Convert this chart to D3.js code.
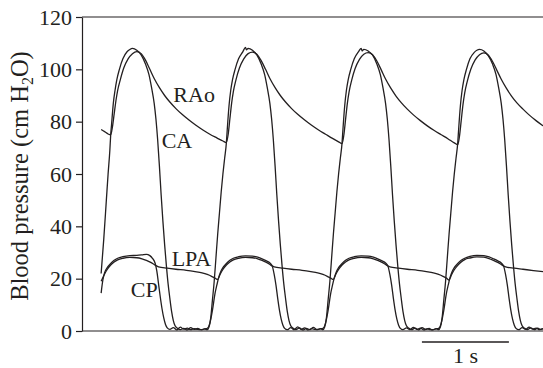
<html>
<head>
<style>
  body { margin: 0; background: #fff; }
  svg { display: block; }
  .trace { fill: none; stroke: #231f20; stroke-width: 1.3; stroke-linejoin: round; }
  .lbl { font-family: "Liberation Serif", "Times New Roman", serif; font-size: 22px; fill: #231f20; }
</style>
<script src="https://d3js.org/d3.v7.min.js"></script>
</head>
<body>
<svg width="543" height="368"></svg>
<script>
// time in s, pressure in cm H2O
const RAo = [[0.22,77],[0.26,76.2],[0.30,75.3],[0.33,75],[0.35,78],[0.37,83],[0.39,88],[0.41,92],[0.44,96],[0.48,100.5],[0.53,104],[0.58,106],[0.63,106.8],[0.68,106],[0.73,103.5],[0.78,100],[0.83,96.5],[0.89,93],[0.95,90],[1.01,87.5],[1.08,85],[1.15,82.8],[1.23,80.6],[1.31,78.6],[1.39,76.8],[1.47,75.2],[1.55,73.8],[1.62,72.6],[1.66,72],
  [1.68,75],[1.70,81],[1.72,87],[1.74,91.5],[1.77,96],[1.81,100.5],[1.86,104],[1.91,106],[1.96,106.6],[2.01,105.8],[2.06,103.3],[2.11,100],[2.16,96.5],[2.22,93],[2.28,90],[2.34,87.5],[2.41,85],[2.48,82.8],[2.56,80.6],[2.64,78.6],[2.72,76.8],[2.80,75.2],[2.88,73.6],[2.95,72.3],[2.99,71.6],
  [3.01,74.8],[3.03,80.8],[3.05,86.8],[3.07,91.3],[3.10,95.8],[3.14,100.3],[3.19,103.8],[3.24,105.8],[3.29,106.4],[3.34,105.6],[3.39,103.2],[3.44,99.8],[3.49,96.3],[3.55,92.8],[3.61,89.8],[3.67,87.3],[3.74,84.8],[3.81,82.6],[3.89,80.4],[3.97,78.4],[4.05,76.6],[4.13,75],[4.21,73.4],[4.28,71.9],[4.32,71.2],
  [4.34,74.5],[4.36,80.5],[4.38,86.5],[4.40,91],[4.43,95.5],[4.47,100],[4.52,103.6],[4.57,105.6],[4.62,106.3],[4.67,105.5],[4.72,103],[4.77,99.6],[4.82,96.2],[4.88,92.7],[4.94,89.7],[5.00,87.2],[5.07,84.8],[5.14,82.6],[5.22,80.4],[5.30,78.4]];

const CA = [[0.22,22],[0.25,35],[0.28,50],[0.30,60],[0.32,69],[0.33,75],[0.34,79],[0.36,87],[0.38,92],[0.40,96],[0.43,100],[0.47,104],[0.52,106.8],[0.55,107.6],[0.58,108],[0.63,107.3],[0.68,105.5],[0.73,102],[0.77,98],[0.80,93],[0.83,87],[0.85,81],[0.87,73],[0.89,63],[0.91,52],[0.93,42],[0.95,33],[0.97,25],[0.99,18],[1.01,12.5],[1.03,7.5],[1.05,4],[1.07,2],[1.10,1],[1.13,0.5],[1.17,1.0],[1.21,0.4],[1.25,1.3],[1.29,0.6],[1.33,1.0],[1.37,0.5],[1.41,0.8],
  [1.44,0.5],[1.46,1.5],[1.48,5],[1.50,12],[1.52,19],[1.54,28],[1.56,37],[1.58,45],[1.60,53],[1.62,60],[1.64,66],[1.66,72],[1.67,77],[1.69,86],[1.71,92],[1.73,96],[1.76,100],[1.80,104],[1.85,106.8],[1.88,108.4],[1.89,107.4],[1.91,108],[1.96,107.3],[2.01,105.5],[2.06,102],[2.10,98],[2.13,93],[2.16,87],[2.18,81],[2.20,73],[2.22,63],[2.24,52],[2.26,42],[2.28,33],[2.30,25],[2.32,18],[2.34,12.5],[2.36,7.5],[2.38,4],[2.40,2],[2.43,1],[2.46,0.5],[2.50,1.2],[2.54,0.4],[2.58,1.0],[2.62,0.5],[2.66,1.4],[2.70,0.6],[2.74,0.9],
  [2.77,0.5],[2.79,1.5],[2.81,5],[2.83,12],[2.85,19],[2.87,28],[2.89,37],[2.91,45],[2.93,53],[2.95,60],[2.97,66],[2.99,72],[3.00,77],[3.02,86],[3.04,92],[3.06,96],[3.09,100],[3.13,104],[3.18,106.8],[3.21,108],[3.22,107],[3.24,107.6],[3.29,107],[3.34,105.5],[3.39,102],[3.43,98],[3.46,93],[3.49,87],[3.51,81],[3.53,73],[3.55,63],[3.57,52],[3.59,42],[3.61,33],[3.63,25],[3.65,18],[3.67,12.5],[3.69,7.5],[3.71,4],[3.73,2],[3.76,1],[3.79,0.5],[3.83,1.1],[3.87,0.4],[3.91,1.3],[3.95,0.6],[3.99,1.0],[4.03,0.4],[4.07,0.9],
  [4.10,0.5],[4.12,1.5],[4.14,5],[4.16,12],[4.18,19],[4.20,28],[4.22,37],[4.24,45],[4.26,53],[4.28,60],[4.30,66],[4.32,72],[4.33,77],[4.35,86],[4.37,92],[4.39,96],[4.42,100],[4.46,104],[4.51,106.5],[4.54,107.3],[4.57,107.6],[4.62,107],[4.67,105.2],[4.72,102],[4.76,98],[4.79,93],[4.82,87],[4.84,81],[4.86,73],[4.88,63],[4.90,52],[4.92,42],[4.94,33],[4.96,25],[4.98,18],[5.00,12.5],[5.02,7.5],[5.04,4],[5.06,2],[5.09,1],[5.12,0.5],[5.16,1.2],[5.20,0.5],[5.24,1.1],[5.27,0.6],[5.30,0.9]];

const LPA = [[0.22,19],[0.26,21.8],[0.29,23.5],[0.33,25.2],[0.37,26.4],[0.41,27.2],[0.47,27.8],[0.55,28.1],[0.63,28],[0.69,27.6],[0.74,27],[0.79,26.2],[0.84,25.2],[0.88,24.5],[0.98,24],[1.08,23.6],[1.20,23.2],[1.30,22.7],[1.38,22.2],[1.44,21.6],[1.49,20.9],[1.53,20.2],[1.56,19.7],
  [1.59,21.8],[1.62,23.5],[1.66,25.2],[1.70,26.4],[1.74,27.2],[1.80,27.8],[1.88,28.1],[1.96,28],[2.02,27.6],[2.07,27],[2.12,26.2],[2.17,25.2],[2.21,24.5],[2.31,24],[2.41,23.6],[2.53,23.2],[2.63,22.7],[2.71,22.2],[2.77,21.6],[2.82,20.9],[2.86,20.2],[2.89,19.7],
  [2.92,21.8],[2.95,23.5],[2.99,25.2],[3.03,26.4],[3.07,27.2],[3.13,27.8],[3.21,28.1],[3.29,28],[3.35,27.6],[3.40,27],[3.45,26.2],[3.50,25.2],[3.54,24.5],[3.64,24],[3.74,23.6],[3.86,23.2],[3.96,22.7],[4.04,22.2],[4.10,21.6],[4.15,20.9],[4.19,20.2],[4.22,19.5],
  [4.25,21.6],[4.28,23.4],[4.32,25.1],[4.36,26.4],[4.40,27.3],[4.46,27.9],[4.54,28.3],[4.62,28.2],[4.68,27.7],[4.73,27],[4.78,26.2],[4.83,25.2],[4.87,24.5],[4.97,24],[5.07,23.6],[5.19,23.1],[5.30,22.7]];

const CP = [[0.22,14.5],[0.24,19.5],[0.26,22.3],[0.29,24.2],[0.33,25.8],[0.37,27],[0.41,27.8],[0.47,28.4],[0.55,28.8],[0.63,28.9],[0.69,29.1],[0.74,29.3],[0.78,28.8],[0.81,27.8],[0.84,26],[0.86,23],[0.88,18],[0.90,13],[0.92,8.5],[0.94,5],[0.96,2.5],[0.98,1.2],[1.01,0.6],[1.05,1.3],[1.09,0.4],[1.13,1.5],[1.17,0.7],[1.21,1.1],[1.25,0.5],[1.29,0.9],[1.33,0.6],
  [1.38,0.5],[1.41,0.8],[1.44,1],[1.47,3],[1.50,8],[1.53,14.5],[1.55,17.5],[1.57,20.3],[1.59,22.3],[1.62,24.2],[1.66,25.8],[1.70,27],[1.74,27.8],[1.80,28.4],[1.88,28.7],[1.96,28.6],[2.02,28.2],[2.07,27.6],[2.12,26.8],[2.16,26],[2.19,24.5],[2.21,21.5],[2.23,17.5],[2.25,12.5],[2.27,8],[2.29,4.5],[2.31,2.2],[2.33,1],[2.36,0.5],[2.40,1.3],[2.44,0.5],[2.48,1.6],[2.52,0.6],[2.56,1.2],[2.60,0.4],[2.64,0.9],[2.68,0.6],
  [2.71,0.5],[2.74,0.8],[2.77,1],[2.80,3],[2.83,8],[2.86,14.5],[2.88,17.5],[2.90,20.3],[2.92,22.3],[2.95,24.2],[2.99,25.8],[3.03,27],[3.07,27.8],[3.13,28.4],[3.21,28.7],[3.29,28.6],[3.35,28.2],[3.40,27.6],[3.45,26.8],[3.49,26],[3.52,24.5],[3.54,21.5],[3.56,17.5],[3.58,12.5],[3.60,8],[3.62,4.5],[3.64,2.2],[3.66,1],[3.69,0.5],[3.73,1.2],[3.77,0.5],[3.81,1.4],[3.85,0.6],[3.89,1.1],[3.93,0.4],[3.97,0.8],[4.01,0.5],
  [4.04,0.5],[4.07,0.8],[4.10,1],[4.13,3],[4.16,8],[4.19,14.5],[4.21,17.5],[4.23,20.3],[4.25,22.3],[4.28,24.2],[4.32,25.8],[4.36,27],[4.40,27.8],[4.46,28.5],[4.54,28.9],[4.62,28.8],[4.68,28.3],[4.73,27.6],[4.78,26.8],[4.82,26],[4.85,24.5],[4.87,21.5],[4.89,17.5],[4.91,12.5],[4.93,8],[4.95,4.5],[4.97,2.2],[4.99,1],[5.02,0.5],[5.06,1.3],[5.10,0.6],[5.14,1.5],[5.18,0.7],[5.22,1.1],[5.26,0.5],[5.30,0.8]];

const yTicks = [0, 20, 40, 60, 80, 100, 120];
// trace labels, placed at [time, pressure]
const labels = [["RAo", 1.05, 87.6], ["CA", 0.916, 69.8], ["LPA", 1.031, 25], ["CP", 0.56, 12.9]];
const scaleBar = [3.908, 4.908]; // 1 s

const svg = d3.select('svg');
const margin = {left: 82, top: 17};
const x = d3.scaleLinear().domain([0, 5.3]).range([82, 543]);
const y = d3.scaleLinear().domain([0, 120]).range([331, 17]);

const line = d3.line()
  .x(d => x(d[0]))
  .y(d => y(d[1]))
  .curve(d3.curveMonotoneX);

// frame: left axis, top and bottom lines
const yAxis = svg.append('g')
  .attr('transform', `translate(${margin.left},0)`)
  .call(d3.axisLeft(y).tickValues(yTicks).tickSize(6).tickSizeOuter(0).tickPadding(4));
yAxis.selectAll('path, line').attr('stroke', '#231f20').attr('stroke-width', 1.2);
yAxis.selectAll('text').attr('class', 'lbl').attr('fill', '#231f20');

svg.append('line').attr('x1', x(0)).attr('x2', x(5.3)).attr('y1', y(120)).attr('y2', y(120))
  .attr('stroke', '#231f20').attr('stroke-width', 1.2);
svg.append('line').attr('x1', x(0)).attr('x2', x(5.3)).attr('y1', y(0)).attr('y2', y(0))
  .attr('stroke', '#231f20').attr('stroke-width', 1.2);

// traces
[RAo, CA, LPA, CP].forEach(s => {
  svg.append('path').datum(s).attr('class', 'trace').attr('d', line);
});

svg.selectAll('.tlabel').data(labels).enter().append('text')
  .attr('class', 'lbl tlabel')
  .attr('x', d => x(d[1]))
  .attr('y', d => y(d[2]))
  .text(d => d[0]);

// y label
const yl = svg.append('text')
  .attr('class', 'lbl')
  .style('font-size', '24.5px')
  .attr('transform', `translate(28,${(y(0) + y(120)) / 2 + 2}) rotate(-90)`)
  .attr('text-anchor', 'middle');
yl.append('tspan').text('Blood pressure (cm H');
yl.append('tspan').style('font-size', '16px').attr('dy', 5).text('2');
yl.append('tspan').attr('dy', -5).text('O)');

// time scale bar
svg.append('line')
  .attr('x1', x(scaleBar[0])).attr('x2', x(scaleBar[1]))
  .attr('y1', y(0) + 11).attr('y2', y(0) + 11)
  .attr('stroke', '#231f20').attr('stroke-width', 1.3);
svg.append('text')
  .attr('class', 'lbl')
  .attr('x', (x(scaleBar[0]) + x(scaleBar[1])) / 2)
  .attr('y', y(0) + 32)
  .attr('text-anchor', 'middle')
  .text('1 s');
</script>
</body>
</html>
